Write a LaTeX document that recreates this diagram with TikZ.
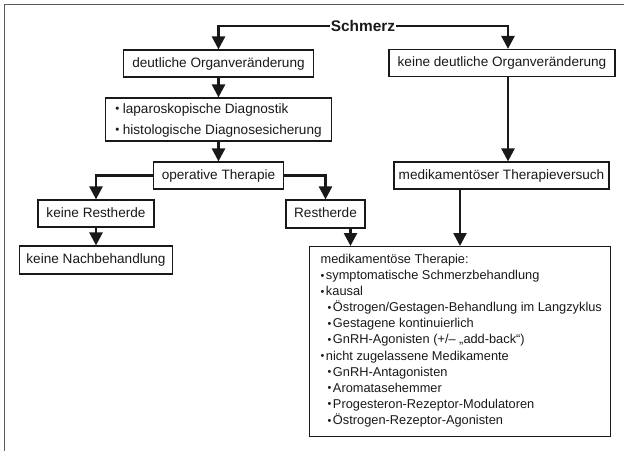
\documentclass[tikz,border=0pt]{standalone}
\usepackage{fontspec}
\setmainfont{Liberation Sans}
\usetikzlibrary{arrows.meta}
\newcommand\bulA{{\fontsize{11.5}{11.5}\selectfont\raisebox{0.4pt}{•}}\hspace{3.5pt}}
\newcommand\bulB{{\fontsize{10.8}{10.8}\selectfont\raisebox{0.4pt}{•}}\hspace{1.5pt}}
\begin{document}
\begin{tikzpicture}[x=1pt,y=-1pt,
  box/.style={draw=black!90, line width=1.2pt, inner sep=0pt, text=black!90,
    font=\fontsize{13.6}{16}\selectfont, text height=9.5pt, text depth=2.5pt},
  conn/.style={line width=2.6pt, draw=black!90, -{Triangle[width=13pt,length=13pt]}},
  frame/.style={line width=1.5pt, draw=black!65}]
\useasboundingbox (0,0) rectangle (624,450);
\draw[frame] (4.5,452) -- (4.5,4.5) -- (626,4.5);

\node[inner sep=1pt, font=\fontsize{15.4}{18}\selectfont\bfseries, text=black!90] (s) at (363,26) {Schmerz};

\node[box, minimum width=190pt, minimum height=27pt] (d) at (218.5,63.5) {deutliche Organveränderung};
\node[box, minimum width=226pt, minimum height=27pt] (kd) at (502,63) {keine deutliche Organveränderung};
\node[box, minimum width=226pt, minimum height=43pt, text height=, text depth=,
  font=\fontsize{13.6}{21}\selectfont] (b) at (218.5,119.5)
  {\begin{tabular}{@{}l@{}}\bulA laparoskopische Diagnostik\\\bulA histologische Diagnosesicherung\end{tabular}};
\node[box, minimum width=130pt, minimum height=27pt] (op) at (218.5,175.5) {operative Therapie};
\node[box, minimum width=215pt, minimum height=27pt] (mv) at (501.5,175.5) {medikamentöser Therapieversuch};
\node[box, minimum width=116pt, minimum height=27pt] (kr) at (96,213.5) {keine Restherde};
\node[box, minimum width=79pt, minimum height=28pt] (rh) at (325.5,214) {Restherde};
\node[box, minimum width=153pt, minimum height=28pt] (kn) at (96,260) {keine Nachbehandlung};
\node[box, anchor=north west, minimum width=301pt, minimum height=190pt] (med) at (309,246) {};
\node[anchor=north west, inner sep=0pt, text=black!90,
  font=\fontsize{12.8}{16.1}\selectfont] (medtext) at ([xshift=11.5pt,yshift=-6pt]med.north west)
  {\begin{tabular}{@{}l@{}}
   medikamentöse Therapie:\\
   \bulB symptomatische Schmerzbehandlung\\
   \bulB kausal\\
   \hspace*{7pt}\bulB Östrogen/Gestagen-Behandlung im Langzyklus\\
   \hspace*{7pt}\bulB Gestagene kontinuierlich\\
   \hspace*{7pt}\bulB GnRH-Agonisten (+/– „add-back“)\\
   \bulB nicht zugelassene Medikamente\\
   \hspace*{7pt}\bulB GnRH-Antagonisten\\
   \hspace*{7pt}\bulB Aromatasehemmer\\
   \hspace*{7pt}\bulB Progesteron-Rezeptor-Modulatoren\\
   \hspace*{7pt}\bulB Östrogen-Rezeptor-Agonisten
   \end{tabular}};

\draw[conn] (s.west) -| (d.north);
\draw[conn] (s.east) -| ([xshift=6pt]kd.north);
\draw[conn] (d.south) -- (b.north);
\draw[conn] (b.south) -- (op.north);
\draw[conn] (op.west) -| (kr.north);
\draw[conn] (op.east) -| (rh.north);
\draw[conn] (kr.south) -- (kn.north);
\draw[conn] ([xshift=6pt]kd.south) -- ([xshift=6pt]kd.south |- mv.north);
\draw[conn] ([xshift=-41.5pt]mv.south) -- ([xshift=-41.5pt]mv.south |- med.north);
\draw[conn] ([xshift=25pt]rh.south) -- ([xshift=25pt]rh.south |- med.north);
\end{tikzpicture}
\end{document}
